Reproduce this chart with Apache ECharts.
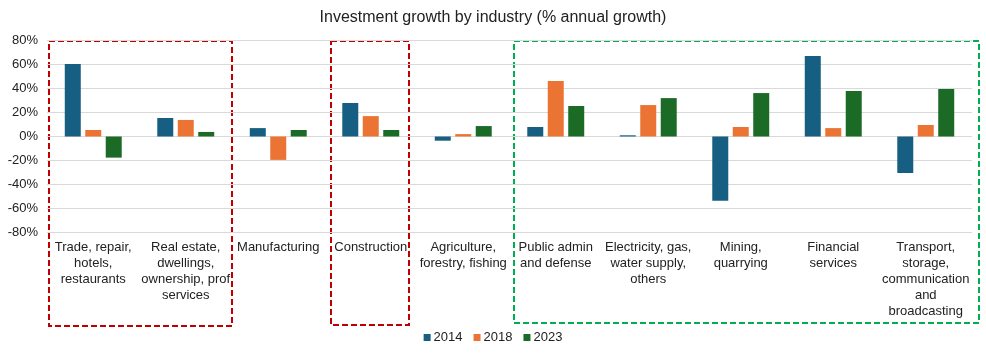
<!DOCTYPE html>
<html>
<head>
<meta charset="utf-8">
<script src="https://cdn.jsdelivr.net/npm/echarts@6/dist/echarts.min.js"></script>
<style>html,body{margin:0;padding:0;background:#fff}#c{width:986px;height:355px}</style>
</head>
<body>
<div id="c"></div>
<script>
var categories = [
  "Trade, repair,\nhotels,\nrestaurants",
  "Real estate,\ndwellings,\nownership, prof\nservices",
  "Manufacturing",
  "Construction",
  "Agriculture,\nforestry, fishing",
  "Public admin\nand defense",
  "Electricity, gas,\nwater supply,\nothers",
  "Mining,\nquarrying",
  "Financial\nservices",
  "Transport,\nstorage,\ncommunication\nand\nbroadcasting"
];
var s2014 = [60.4, 15.4, 7, 27.9, -3.5, 7.9, 1, -53.5, 67, -30.4];
var s2018 = [5.4, 13.8, -19.5, 17, 2, 46.2, 26.2, 7.9, 7, 9.6];
var s2023 = [-17.6, 3.8, 5.4, 5.4, 8.7, 25.4, 32, 36.2, 37.9, 39.6];
var yTicks = [-80, -60, -40, -20, 0, 20, 40, 60, 80];

var font = "Liberation Sans, Arial, sans-serif";
var chart = echarts.init(document.getElementById('c'));
chart.setOption({
  animation: false,
  textStyle: {fontFamily: font},
  title: {
    text: "Investment growth by industry (% annual growth)",
    left: 'center', top: 5,
    textStyle: {fontFamily: font, fontSize: 16, fontWeight: 'normal', color: '#222'}
  },
  legend: {
    bottom: 6, left: 'center',
    itemWidth: 7, itemHeight: 7, itemGap: 11,
    icon: 'rect',
    textStyle: {fontFamily: font, fontSize: 13, color: '#222', padding: [0, 0, 0, -2]},
    data: ['2014', '2018', '2023']
  },
  grid: {left: 47, right: 14, top: 40.5, bottom: 122.5, containLabel: false},
  xAxis: {
    type: 'category',
    data: categories,
    axisLine: {show: false, onZero: false},
    axisTick: {show: false},
    axisLabel: {interval: 0, margin: 7, fontFamily: font, fontSize: 13, color: '#222', lineHeight: 16, verticalAlign: 'top'}
  },
  yAxis: {
    type: 'value',
    min: yTicks[0], max: yTicks[yTicks.length - 1], interval: 20,
    axisLine: {show: false},
    axisTick: {show: false},
    splitLine: {lineStyle: {color: '#D9D9D9', width: 1}},
    axisLabel: {formatter: '{value}%', fontFamily: font, fontSize: 13, color: '#222', margin: 9}
  },
  series: [
    {name: '2014', type: 'bar', data: s2014, barWidth: 16, barGap: '28%', itemStyle: {color: '#175F82'}},
    {name: '2018', type: 'bar', data: s2018, barWidth: 16, barGap: '28%', itemStyle: {color: '#EB7434'}},
    {name: '2023', type: 'bar', data: s2023, barWidth: 16, barGap: '28%', itemStyle: {color: '#1B6B27'}}
  ],
  graphic: [
    {type: 'rect', shape: {x: 49, y: 41, width: 183, height: 285}, style: {fill: 'none', stroke: '#C00000', lineWidth: 2, lineDash: [6, 3]}},
    {type: 'rect', shape: {x: 331, y: 41, width: 78, height: 284}, style: {fill: 'none', stroke: '#C00000', lineWidth: 2, lineDash: [6, 3]}},
    {type: 'rect', shape: {x: 514, y: 41, width: 465, height: 282}, style: {fill: 'none', stroke: '#00B050', lineWidth: 2, lineDash: [6, 3]}}
  ]
});
</script>
</body>
</html>
